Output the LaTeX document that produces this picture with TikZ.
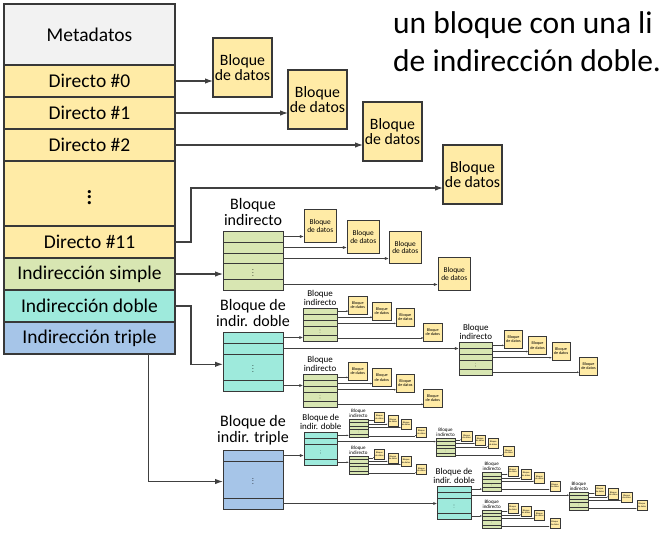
\documentclass[tikz,border=0pt]{standalone}
\usepackage{fontspec}
\setmainfont{Carlito}
\usepackage{graphicx}
\usetikzlibrary{arrows.meta,positioning}
\definecolor{gris}{HTML}{F2F2F2}
\definecolor{amarillo}{HTML}{FFEBA6}
\definecolor{verde}{HTML}{D8E6B2}
\definecolor{cian}{HTML}{9EEADC}
\definecolor{azul}{HTML}{A6C5E8}
\definecolor{borde}{HTML}{383838}
\definecolor{linea}{HTML}{404040}

\newcommand{\escala}{1}
\newcommand{\puntos}{\scalebox{0.7}{$\vdots$}}

% Bloque indirecto: nombre, esquina sup. izq. (x,y), escala
\newcommand{\bloqueind}[4]{%
  \begin{scope}[shift={(#2,#3)}, scale=#4, transform shape]
    \pgfmathsetmacro{\escala}{\escala*#4}
    \node[etiq] (#1-t) at (30,5) {Bloque\\indirecto};
    \node[celda, fill=verde] (#1-r1) at (0,0) {};
    \node[celda, fill=verde] (#1-r2) at (0,-11) {};
    \node[celda, fill=verde] (#1-r3) at (0,-22) {};
    \node[celda, fill=verde, minimum height=15.5] (#1-p) at (0,-32.5) {\puntos};
    \node[celda, fill=verde] (#1-r4) at (0,-48) {};
    \node[datob] (#1-d1) at (81,-11) {Bloque\\de datos};
    \node[datob] (#1-d2) at (124,-22) {Bloque\\de datos};
    \node[datob] (#1-d3) at (166,-32.5) {Bloque\\de datos};
    \node[datob] (#1-d4) at (215,-59) {Bloque\\de datos};
    \foreach \origen/\destino in {r1/d1, r2/d2, r3/d3, r4/d4}
      \draw[gflecha] (#1-\origen.east) -- (#1-\origen.east -| #1-\destino.west);
  \end{scope}%
}

% Bloque de indireccion doble
\newcommand{\bloquedob}[4]{%
  \begin{scope}[shift={(#2,#3)}, scale=#4, transform shape]
    \pgfmathsetmacro{\escala}{\escala*#4}
    \node[etiq] (#1-t) at (30,5) {Bloque de\\indir. doble};
    \node[celda, fill=cian] (#1-r1) at (0,0) {};
    \node[celda, fill=cian] (#1-r2) at (0,-11) {};
    \node[celda, fill=cian, minimum height=26] (#1-p) at (0,-22) {\puntos};
    \node[celda, fill=cian] (#1-r4) at (0,-48) {};
    \bloqueind{#1-a}{80.3}{24}{0.56}
    \bloqueind{#1-b}{236}{-10.3}{0.56}
    \bloqueind{#1-c}{80.3}{-42.3}{0.56}
    \foreach \origen/\destino in {r1/a, r2/b, r4/c}
      \draw[gflecha] (#1-\origen.east) -- (#1-\origen.east -| #1-\destino-r1.west);
  \end{scope}%
}

% Bloque de indireccion triple
\newcommand{\bloquetri}[4]{%
  \begin{scope}[shift={(#2,#3)}, scale=#4, transform shape]
    \pgfmathsetmacro{\escala}{\escala*#4}
    \node[etiq] (#1-t) at (30,5) {Bloque de\\indir. triple};
    \node[celda, fill=azul] (#1-r1) at (0,0) {};
    \node[celda, fill=azul, minimum height=37] (#1-p) at (0,-11) {\puntos};
    \node[celda, fill=azul] (#1-r4) at (0,-48) {};
    \bloquedob{#1-a}{81}{17.7}{0.56}
    \bloquedob{#1-b}{214.3}{-36}{0.56}
    \foreach \origen/\destino in {r1/a, r4/b}
      \draw[gflecha] (#1-\origen.east) -- (#1-\origen.east -| #1-\destino-r1.west);
  \end{scope}%
}

\begin{document}
\begin{tikzpicture}[x=1pt, y=1pt,
    fila/.style={draw=borde, fill=amarillo, line width=1.2pt, minimum width=171,
      minimum height=32, inner sep=0, outer sep=0, font=\fontsize{19.5}{20}\selectfont},
    datos/.style={draw=borde, fill=amarillo, line width=1.2pt, minimum size=59,
      inner sep=0, outer sep=0, anchor=south west, align=center,
      font=\fontsize{15.8}{15.8}\selectfont},
    celda/.style={draw=borde, line width=\escala*1pt, minimum width=60,
      minimum height=11, inner sep=0, outer sep=0, anchor=north west},
    datob/.style={draw=borde, fill=amarillo, line width=\escala*1pt, minimum size=32.5,
      inner sep=0, outer sep=0, anchor=south west, align=center,
      font=\fontsize{7.4}{7.6}\selectfont},
    etiq/.style={anchor=south, align=center, inner sep=0, outer sep=0,
      font=\fontsize{16}{16}\selectfont},
    flecha/.style={draw=linea, line width=1.1pt, -{Latex[length=8pt,width=5.5pt]}},
    gflecha/.style={draw=linea, line width=\escala*0.9pt, -{Latex[length=0pt 4.5,width=0pt 3.5]}},
    titulo/.style={anchor=base west, inner sep=0, font=\fontsize{31.5}{38}\selectfont}]
    \useasboundingbox (0,0) rectangle (660,-539);

    % Texto de la diapositiva
    \node[titulo] (lin1) at (393,-33.5) {un bloque con una li};
    \node[titulo] (lin2) at (393,-71.5) {de indirección doble.};

    % Columna del i-nodo
    \node[fila, fill=gris, minimum height=61] (meta) at (89.5,-34.5) {Metadatos};
    \node[fila, below=0pt of meta] (d0) {Directo \#0};
    \node[fila, below=0pt of d0] (d1) {Directo \#1};
    \node[fila, below=0pt of d1] (d2) {Directo \#2};
    \node[fila, below=0pt of d2, minimum height=65] (pts) {\scalebox{1.35}{$\vdots$}};
    \node[fila, below=0pt of pts] (d11) {Directo \#11};
    \node[fila, fill=verde, below=0pt of d11] (simple) {Indirección simple};
    \node[fila, fill=cian, below=0pt of simple] (doble) {Indirección doble};
    \node[fila, fill=azul, below=0pt of doble] (triple) {Indirección triple};

    % Bloques de datos directos
    \node[datos] (b0) at ([xshift=38]d0.south east) {Bloque\\de datos};
    \node[datos] (b1) at ([xshift=113]d1.south east) {Bloque\\de datos};
    \node[datos] (b2) at ([xshift=188]d2.south east) {Bloque\\de datos};
    \node[datos] (b3) at (443,-204) {Bloque\\de datos};

    \draw[flecha] (d0.east) -- (d0.east -| b0.west);
    \draw[flecha] (d1.east) -- (d1.east -| b1.west);
    \draw[flecha] (d2.east) -- (d2.east -| b2.west);
    \draw[flecha] (d11.east) -- ++(16,0) |- ([yshift=16]b3.south west);

    % Bloques de indireccion
    \bloqueind{ind}{223}{-231}{1}
    \bloquedob{dob}{223}{-332}{1}
    \bloquetri{tri}{223}{-450}{1}

    \draw[flecha] (simple.east) -- (simple.east -| ind-r1.west);
    \draw[flecha] (doble.east) -- ++(16,0) |- ([yshift=2.7]dob-p.west);
    \draw[flecha] ([xshift=59]triple.south) |- ([yshift=-2]tri-p.west);
\end{tikzpicture}
\end{document}
